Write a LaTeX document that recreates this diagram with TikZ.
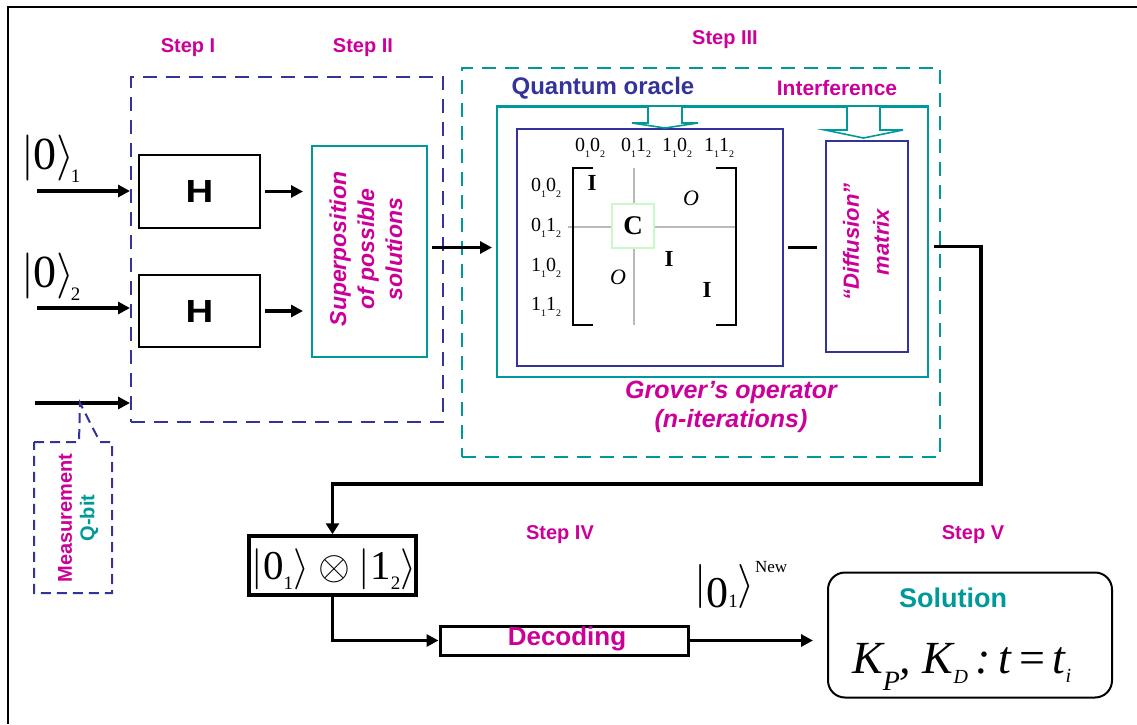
\documentclass[tikz,border=0pt]{standalone}
\usepackage{fix-cm}
\usepackage{amsmath}
\usepackage{fontspec}
\setmainfont{Liberation Serif}
\setsansfont{Liberation Sans}
\usetikzlibrary{arrows.meta}

\definecolor{qmag}{RGB}{204,0,153}
\definecolor{qteal}{RGB}{0,153,153}
\definecolor{qblue}{RGB}{51,51,153}
\definecolor{qgreen}{RGB}{200,250,200}
\definecolor{qgray}{RGB}{185,185,185}

\newcommand{\setfs}[2]{\fontsize{#1}{#2}\selectfont}
% basis state with two subscripts, e.g. 0_1 0_2
\newcommand{\bst}[4]{#1\raisebox{-0.3em}{\setfs{10}{10}#2}#3\raisebox{-0.3em}{\setfs{10}{10}#4}}
% lowered small index
\newcommand{\lowidx}[2]{\raisebox{-#1pt}{\setfs{19}{19}#2}}

\tikzset{
  arr/.style={line width=3.5pt, -{Triangle[length=12pt,width=12pt]}},
  wire/.style={line width=3.5pt},
  dashblue/.style={draw=qblue, line width=2pt, dash pattern=on 14pt off 9pt},
  dashteal/.style={draw=qteal, line width=2pt, dash pattern=on 14pt off 9pt},
  gatebox/.style={draw=black, line width=2pt, inner sep=0pt},
  steplbl/.style={font=\sffamily\bfseries\setfs{20}{24}, text=qmag, inner sep=0pt},
  hollow/.style={draw=qteal, line width=1.6pt, fill=white},
  rowlbl/.style={font=\setfs{20}{20}, inner sep=0pt},
  ent/.style={font=\bfseries\setfs{23}{23}, inner sep=0pt},
  zero/.style={font=\itshape\setfs{22}{22}, inner sep=0pt},
}

\begin{document}
\begin{tikzpicture}[x=1pt,y=-1pt]
\useasboundingbox (0,0) rectangle (1137,724);

% page frame
\draw[line width=2.5pt] (8,724) -- (8,7) -- (1137,7);

% step labels
\node[steplbl] (s1) at (188,48) {Step I};
\node[steplbl] (s2) at (363,48) {Step II};
\node[steplbl] (s3) at (725,40) {Step III};
\node[steplbl] (s4) at (560,535) {Step IV};
\node[steplbl] (s5) at (973,535) {Step V};

% ---- Steps I and II
\node[dashblue, minimum width=312pt, minimum height=345pt, inner sep=0pt] (stepA) at (287,249.5) {};
\node[gatebox, minimum width=121pt, minimum height=73pt] (h1) at (199.5,191.5) {};
\node[gatebox, minimum width=121pt, minimum height=72pt] (h2) at (199.5,311) {};
\node[font=\sffamily\bfseries\setfs{32}{32}, xscale=1.2, inner sep=0pt] (h1t) at (h1.center) {H};
\node[font=\sffamily\bfseries\setfs{32}{32}, xscale=1.2, inner sep=0pt] (h2t) at (h2.center) {H};
\node[draw=qteal, line width=2pt, minimum width=115pt, minimum height=211pt, inner sep=0pt] (sup) at (369.5,251.5) {};
\node[rotate=90, align=center, text=qmag, font=\sffamily\bfseries\itshape\setfs{23}{28}, inner sep=0pt] (supt) at (366,249) {Superposition\\of possible\\solutions};

% input qubits
\node[anchor=west, inner sep=0pt, font=\setfs{46}{46}] (k1) at (21,159)
  {$|\text{0}\rangle\kern-4pt\text{\lowidx{13}{1}}$};
\node[anchor=west, inner sep=0pt, font=\setfs{46}{46}] (k2) at (21,277)
  {$|\text{0}\rangle\kern-4pt\text{\lowidx{13}{2}}$};
\coordinate (in1) at (37,191);
\coordinate (in2) at (37,308);
\coordinate (in3) at (35,403);
\draw[arr] (in1) -- (in1 -| stepA.west);
\draw[arr] (in2) -- (in2 -| stepA.west);
\draw[arr] (in3) -- (in3 -| stepA.west);
\draw[arr, shorten <=4pt, shorten >=8pt] (h1.east) -- (h1.east -| sup.west);
\draw[arr, shorten <=4pt, shorten >=8pt] (h2.east) -- (h2.east -| sup.west);

% measurement qubit callout
\coordinate (mtip) at (80,403);
\draw[dashblue, dash pattern=on 10pt off 6pt] (34,442) -- (79,442) -- (mtip) -- (100,442) -- (112,442) -- (112,593) -- (34,593) -- cycle;
\node[rotate=90, text=qmag, font=\sffamily\bfseries\setfs{20}{20}, inner sep=0pt] (meas) at (65,518) {Measurement};
\node[rotate=90, text=qteal, font=\sffamily\bfseries\setfs{20}{20}, inner sep=0pt] (qbit) at (89,518) {Q-bit};

% ---- Step III
\node[dashteal, minimum width=478pt, minimum height=389pt, inner sep=0pt] (stepB) at (701,262.5) {};
\node[draw=qteal, line width=2pt, minimum width=431pt, minimum height=270pt, inner sep=0pt] (grover) at (712.5,242) {};
\node[draw=qblue, line width=2pt, minimum width=266pt, minimum height=237pt, inner sep=0pt] (oracle) at (650,247.5) {};
\node[draw=qblue, line width=2pt, minimum width=82pt, minimum height=211pt, inner sep=0pt] (diff) at (867,246.5) {};
\node[text=qblue, font=\sffamily\bfseries\setfs{24}{24}, inner sep=0pt] (qo) at (603,88) {Quantum oracle};
\node[text=qmag, font=\sffamily\bfseries\setfs{21}{21}, inner sep=0pt] (intf) at (837,88) {Interference};
\node[text=qmag, align=center, font=\sffamily\bfseries\itshape\setfs{25}{29}, inner sep=0pt] (gop) at (731,407) {Grover’s operator\\(n-iterations)};
\node[rotate=90, align=center, text=qmag, font=\sffamily\bfseries\itshape\setfs{22}{30}, inner sep=0pt] (dtxt) at (866,242) {“Diffusion”\\matrix};

% hollow arrows feeding the oracle and the diffusion step
\draw[hollow] (648,107) -- (648,123) -- (632,123) -- (665,128) -- (698,123) -- (682,123) -- (682,107);
\draw[hollow] (847,107) -- (847,130) -- (825,130) -- (863.5,138) -- (903,130) -- (880,130) -- (880,107);
\draw[qteal, line width=2pt] (grover.north west) -- (grover.north east);

% oracle matrix
\draw[qgray, line width=1.2pt] (634,168) -- (634,325);
\draw[qgray, line width=1.2pt] (568,227) -- (737,227);
\draw[line width=2.8pt] (593,168) -- (573,168) -- (573,325) -- (593,325);
\draw[line width=2.8pt] (716,168) -- (736,168) -- (736,325) -- (716,325);
\node[draw=qgreen, line width=1.2pt, fill=white, minimum width=42pt, minimum height=44pt, inner sep=0pt] (cbox) at (633,226) {};
\node[font=\bfseries\setfs{27}{27}, inner sep=0pt] (ctxt) at (cbox.center) {C};
\node[ent] (i1) at (592,183) {I};
\node[ent] (i2) at (669,259) {I};
\node[ent] (i3) at (707,290) {I};
\node[zero] (o1) at (691,198) {O};
\node[zero] (o2) at (618,277) {O};
\node[rowlbl] (c1) at (590,148) {\bst{0}{1}{0}{2}};
\node[rowlbl] (c2) at (636,148) {\bst{0}{1}{1}{2}};
\node[rowlbl] (c3) at (677,148) {\bst{1}{1}{0}{2}};
\node[rowlbl] (c4) at (719,148) {\bst{1}{1}{1}{2}};
\node[rowlbl] (r1) at (546,188) {\bst{0}{1}{0}{2}};
\node[rowlbl] (r2) at (546,228) {\bst{0}{1}{1}{2}};
\node[rowlbl] (r3) at (546,268) {\bst{1}{1}{0}{2}};
\node[rowlbl] (r4) at (546,307) {\bst{1}{1}{1}{2}};

% connections through Grover's operator
\draw[arr, shorten <=4pt, shorten >=4pt] (sup.east |- oracle.west) -- (grover.west |- oracle.west);
\draw[wire, shorten <=4pt, shorten >=8pt] (oracle.east) -- (diff.west |- oracle.east);

% ---- Steps IV and V
\node[draw=black, line width=3.5pt, minimum width=167pt, minimum height=59pt, inner sep=0pt] (tensor) at (332.5,565.5) {};
\node[font=\setfs{41}{41}, inner sep=0pt] (tens) at (334,569)
  {$|\text{0\lowidx{10}{1}}\rangle\otimes|\text{1\lowidx{10}{2}}\rangle$};
\node[draw=black, line width=3pt, minimum width=248pt, minimum height=29pt, inner sep=0pt] (decode) at (564,640.5) {};
\node[text=qmag, font=\sffamily\bfseries\setfs{26}{26}, inner sep=0pt] (dect) at (567,639) {Decoding};
\node[draw=black, line width=2pt, rounded corners=17pt, minimum width=284pt, minimum height=125pt, inner sep=0pt] (sol) at (970,635) {};
\node[text=qteal, font=\sffamily\bfseries\setfs{27}{27}, inner sep=0pt] (solt) at (953,598) {Solution};
\node[font=\itshape\setfs{46}{46}, inner sep=0pt, anchor=base west] (keys) at (852,673)
  {K\raisebox{-17pt}{\setfs{28}{28}P}, K\raisebox{-10pt}{\setfs{20}{20}D}\,:\,t\,{\upshape =}\,t\raisebox{-9pt}{\setfs{20}{20}i}};
\node[font=\setfs{44}{44}, inner sep=0pt, anchor=west] (knew) at (694,585)
  {$|\text{\raisebox{-10.5pt}{0\setfs{19}{19}1}}\rangle\text{\raisebox{24.5pt}{\setfs{17}{17}New}}$};

\coordinate (turnA) at (981,246.5);
\coordinate (turnB) at (981,484);
\draw[line width=3.5pt, -{Triangle[length=11pt,width=13pt]}] (diff.east) ++(25,0) -- (turnA) -- (turnB) -| (tensor.north);
\draw[arr] (tensor.south) |- (decode.west);
\draw[arr, shorten >=14pt] (decode.east) -- (decode.east -| sol.west);
\end{tikzpicture}
\end{document}
